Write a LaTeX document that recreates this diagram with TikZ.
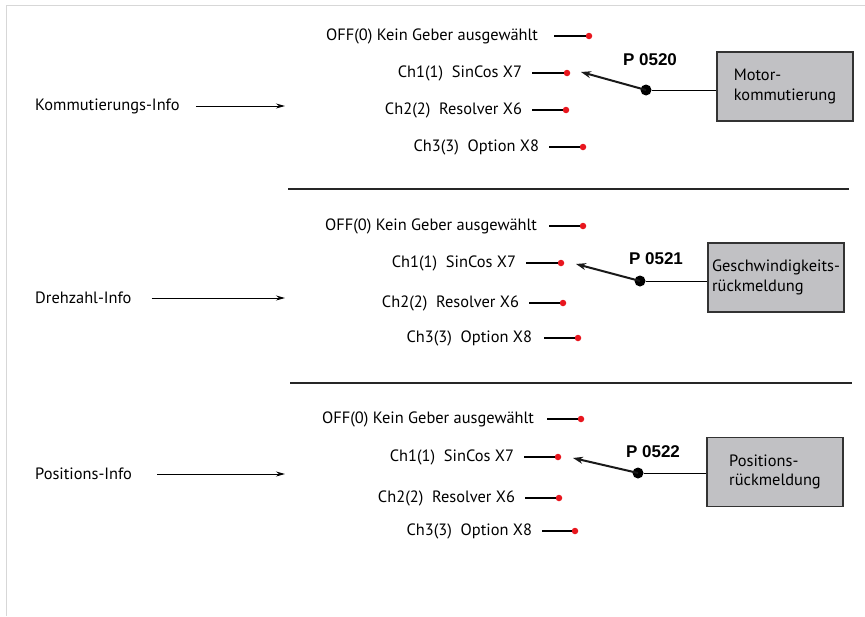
\documentclass[tikz,border=0pt]{standalone}
\usepackage{fontspec}
\setmainfont{PT Sans}
\newfontfamily\pfont{Liberation Sans}
\usetikzlibrary{arrows.meta, positioning}
\definecolor{boxgray}{RGB}{193,193,196}
\definecolor{dotred}{RGB}{232,22,30}
\definecolor{framegray}{RGB}{215,215,215}
\tikzset{
	every node/.style = {font = \fontsize{16.4}{19.5}\selectfont},
	src/.style = {anchor = east, inner sep = 0pt, outer xsep = 10pt},
	reddot/.style = {circle, fill = dotred, minimum size = 6.5pt, inner sep = 0pt},
	pivot/.style = {circle, fill = black, minimum size = 11pt, inner sep = 0pt},
	fbbox/.style = {rectangle, draw = black!80, line width = 1.2pt, fill = boxgray, align = left, minimum width = 136pt, minimum height = 69pt, inner sep = 0pt},
	plabel/.style = {font = \pfont\bfseries\fontsize{17}{19}\selectfont},
	infotext/.style = {anchor = west, inner sep = 0pt},
	lead/.style = {line width = 1.4pt, black},
	selector/.style = {-{Stealth[length = 10pt, width = 7pt]}, line width = 2pt, black!90},
	infoarrow/.style = {-{Stealth[length = 9pt, width = 5pt]}, line width = 1pt},
	sepline/.style = {line width = 1.5pt, black!85}
}

\begin{document}
\begin{tikzpicture}[x = 1pt, y = -1pt]
	
	\useasboundingbox (0,0) rectangle (865,616);
	\draw [framegray, line width = 1pt] (6,616) -- (6,5) -- (865,5);
	
	%% block 1: Kommutierung
	\node (off1) [src, outer xsep = 16pt] at (554,36) {OFF(0) Kein Geber ausgewählt};
	\node (sc1) [src] at (532,73) {Ch1(1)\ \ SinCos X7};
	\node (rs1) [src] at (532,110) {Ch2(2)\ \ Resolver X6};
	\node (op1) [src] at (549,147) {Ch3(3)\ \ Option X8};
	\node (doff1) [reddot] at (589,36) {};
	\node (dsc1) [reddot] at (567,73) {};
	\node (drs1) [reddot] at (566,110) {};
	\node (dop1) [reddot] at (583,147) {};
	
	\node (sw1) [pivot] at (646,90) {};
	\coordinate (tip1) at (581,72);
	\node (p1) [plabel] at (650,60) {P 0520};
	\node (fb1) [fbbox] at (785,86.5) {Motor-\\kommutierung};
	
	\node (info1) [infotext] at (35,106) {Kommutierungs-Info};
	\coordinate (in1) at (285,106);
	
	%% block 2: Drehzahl
	\node (off2) [src, outer xsep = 12pt] at (549,226) {OFF(0) Kein Geber ausgewählt};
	\node (sc2) [src] at (526,263) {Ch1(1)\ \ SinCos X7};
	\node (rs2) [src] at (529,303) {Ch2(2)\ \ Resolver X6};
	\node (op2) [src, outer xsep = 12pt] at (544,338) {Ch3(3)\ \ Option X8};
	\node (doff2) [reddot] at (583,226) {};
	\node (dsc2) [reddot] at (561,263) {};
	\node (drs2) [reddot] at (563,303) {};
	\node (dop2) [reddot] at (578,338) {};
	
	\node (sw2) [pivot] at (640,281) {};
	\coordinate (tip2) at (576,264);
	\node (p2) [plabel] at (656,259) {P 0521};
	\node (fb2) [fbbox] at (776,277.5) {Geschwindigkeits-\\rückmeldung};
	
	\node (info2) [infotext] at (35,298) {Drehzahl-Info};
	\coordinate (in2) at (285,298);
	
	%% block 3: Position
	\node (off3) [src, outer xsep = 13pt] at (547,419) {OFF(0) Kein Geber ausgewählt};
	\node (sc3) [src] at (524,457) {Ch1(1)\ \ SinCos X7};
	\node (rs3) [src] at (525,498) {Ch2(2)\ \ Resolver X6};
	\node (op3) [src] at (542,531) {Ch3(3)\ \ Option X8};
	\node (doff3) [reddot] at (581,419) {};
	\node (dsc3) [reddot] at (558,457) {};
	\node (drs3) [reddot] at (559,498) {};
	\node (dop3) [reddot] at (575,531) {};
	
	\node (sw3) [pivot] at (638,473) {};
	\coordinate (tip3) at (573,458);
	\node (p3) [plabel] at (653,452) {P 0522};
	\node (fb3) [fbbox] at (775,472) {Positions-\\rückmeldung};
	
	\node (info3) [infotext] at (35,474) {Positions-Info};
	\coordinate (in3) at (285,474);
	
	%% leads
	\draw [lead] (off1) -- (doff1);
	\draw [lead] (sc1) -- (dsc1);
	\draw [lead] (rs1) -- (drs1);
	\draw [lead] (op1) -- (dop1);
	\draw [lead] (off2) -- (doff2);
	\draw [lead] (sc2) -- (dsc2);
	\draw [lead] (rs2) -- (drs2);
	\draw [lead] (op2) -- (dop2);
	\draw [lead] (off3) -- (doff3);
	\draw [lead] (sc3) -- (dsc3);
	\draw [lead] (rs3) -- (drs3);
	\draw [lead] (op3) -- (dop3);
	
	%% switches
	\draw [selector] (sw1.center) -- (tip1);
	\draw [selector] (sw2.center) -- (tip2);
	\draw [selector] (sw3.center) -- (tip3);
	\draw [lead, line width = 1pt] (sw1) -- (sw1 -| fb1.west);
	\draw [lead, line width = 1pt] (sw2) -- (sw2 -| fb2.west);
	\draw [lead, line width = 1pt] (sw3) -- (sw3 -| fb3.west);
	
	%% info arrows
	\draw [infoarrow] ([xshift = 16pt]info1.east) -- (in1);
	\draw [infoarrow] ([xshift = 20pt]info2.east) -- (in2);
	\draw [infoarrow] ([xshift = 25pt]info3.east) -- (in3);
	
	%% separators
	\draw [sepline] (288,189) -- (849,189);
	\draw [sepline] (290,383) -- (852,383);
	
\end{tikzpicture}
\end{document}
